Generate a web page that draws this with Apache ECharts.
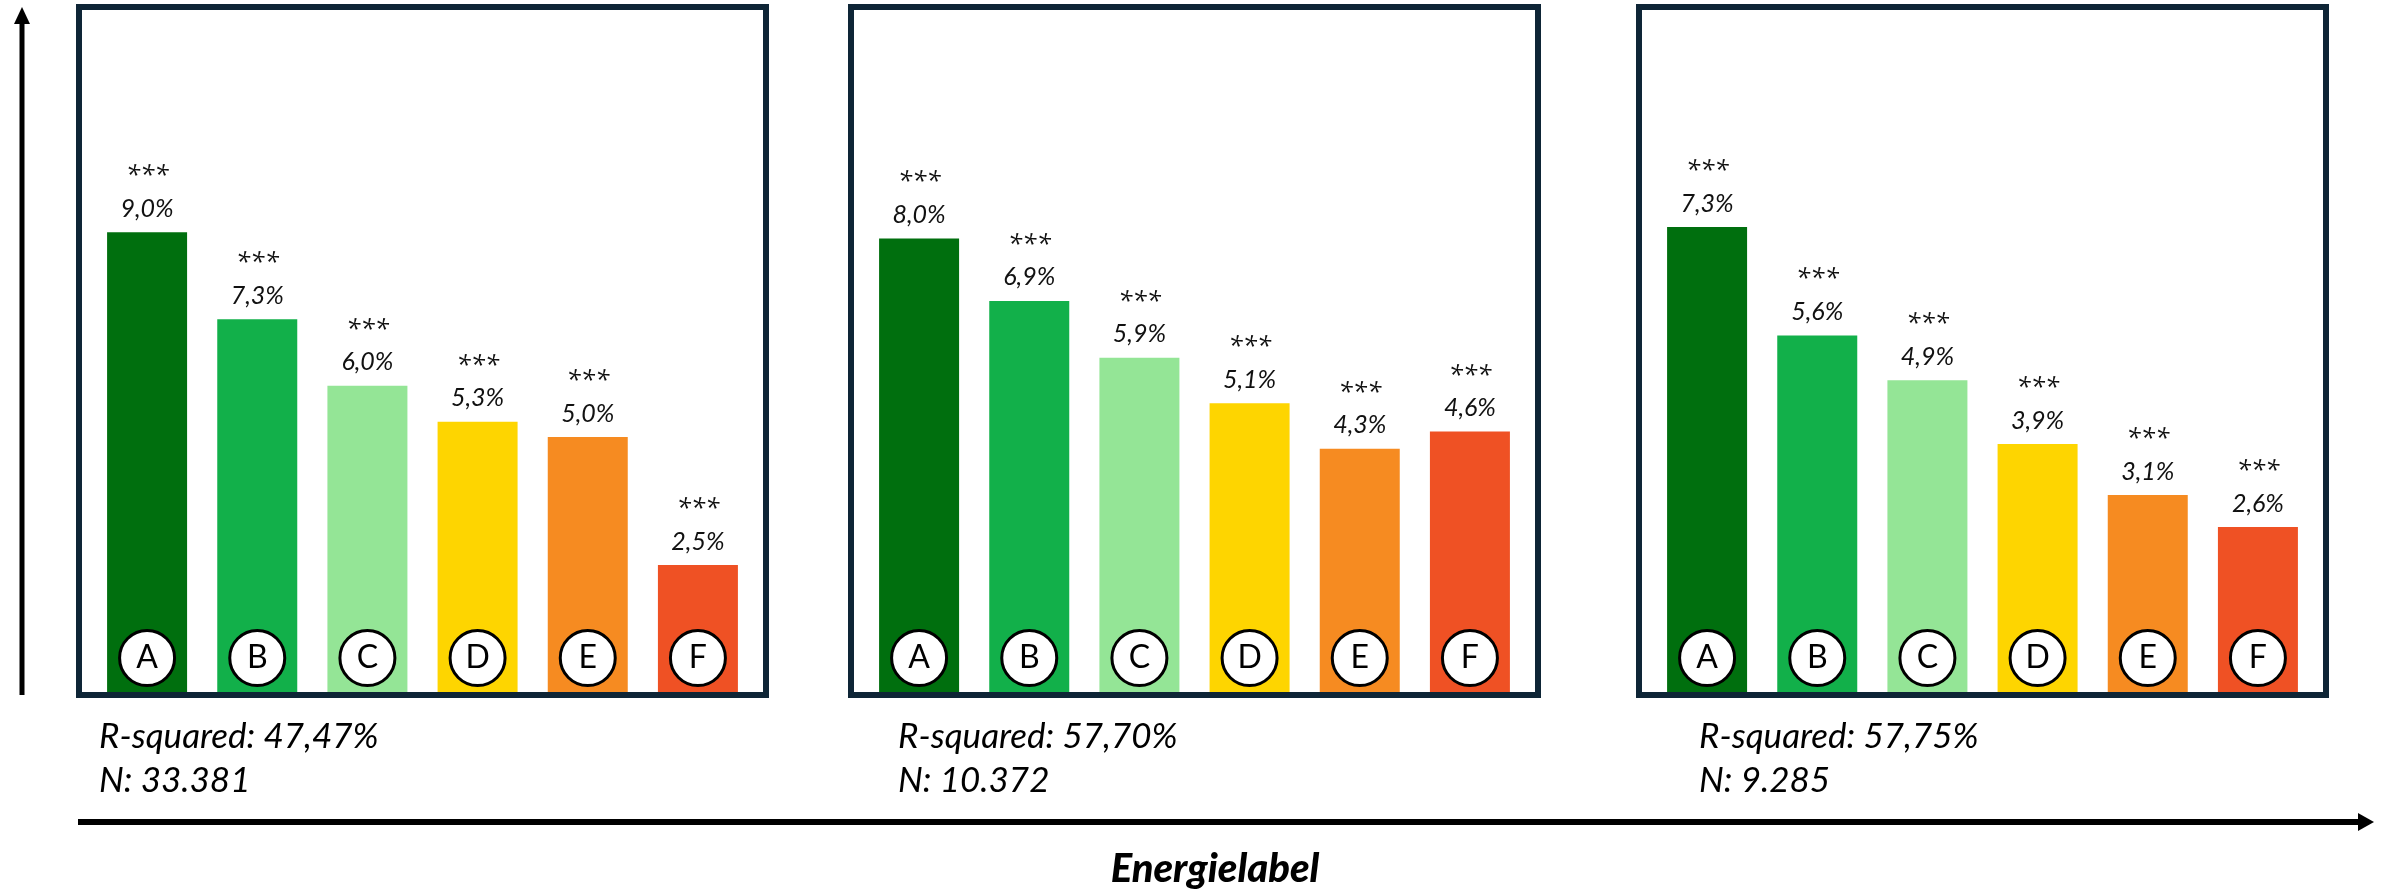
<!DOCTYPE html>
<html>
<head>
<meta charset="utf-8">
<title>Energielabel</title>
<script src="https://cdn.jsdelivr.net/npm/echarts@6/dist/echarts.min.js"></script>
<style>
  html, body { margin: 0; padding: 0; background: #ffffff; }
  #chart { width: 2387px; height: 889px; }
</style>
</head>
<body>
<div id="chart"></div>
<script>
// Energy label categories, shared by all three panels
const labels = ['A', 'B', 'C', 'D', 'E', 'F'];
const barColors = ['#006f0e', '#12b04a', '#94e596', '#fed500', '#f68b21', '#ef5124'];

// Estimated effect per label (percent), one array per model
const panel1Values = [9.0, 7.3, 6.0, 5.3, 5.0, 2.5];
const panel2Values = [8.0, 6.9, 5.9, 5.1, 4.3, 4.6];
const panel3Values = [7.3, 5.6, 4.9, 3.9, 3.1, 2.6];

// Significance markers shown above each bar
const panel1Stars = ['***', '***', '***', '***', '***', '***'];
const panel2Stars = ['***', '***', '***', '***', '***', '***'];
const panel3Stars = ['***', '***', '***', '***', '***', '***'];

// Model fit statistics printed under each panel
const rSquared = ['47,47%', '57,70%', '57,75%'];
const sampleSize = ['33.381', '10.372', '9.285'];

// Upper bound of each panel's (hidden) value axis
const yMax = [13.34, 12.02, 10.7];

const xTitle = 'Energielabel';

const panels = [
  { values: panel1Values, stars: panel1Stars },
  { values: panel2Values, stars: panel2Stars },
  { values: panel3Values, stars: panel3Stars }
];

// Layout (pixels)
const frameLeft = [76, 848, 1636];
const frameWidth = 693;
const frameTop = 4;
const frameBottom = 698;
const frameLine = 6;
const plotTop = 10;
const plotBottom = 693;
const statsLeft = [99, 898, 1699];

const FONT = 'Lato, "Open Sans", sans-serif';
const STAR_FONT = '"Open Sans", "DejaVu Sans", sans-serif';
const fmt = v => v.toFixed(1).replace('.', ',') + '%';

const grids = [], xAxes = [], yAxes = [], series = [], graphics = [];

panels.forEach((p, i) => {
  grids.push({
    left: frameLeft[i] + 16,
    width: frameWidth - 32,
    top: plotTop,
    height: plotBottom - plotTop
  });
  xAxes.push({
    type: 'category', gridIndex: i, data: labels,
    axisLine: { show: false }, axisTick: { show: false },
    axisLabel: { show: false }, splitLine: { show: false }
  });
  yAxes.push({
    type: 'value', gridIndex: i, min: 0, max: yMax[i],
    axisLine: { show: false }, axisTick: { show: false },
    axisLabel: { show: false }, splitLine: { show: false }
  });

  series.push({
    type: 'bar',
    xAxisIndex: i, yAxisIndex: i,
    barWidth: 80,
    z: 2,
    data: p.values.map((v, k) => ({
      value: v,
      itemStyle: { color: barColors[k] }
    })),
    label: {
      show: true,
      position: 'top',
      distance: 5,
      formatter: params => '{s|' + p.stars[params.dataIndex] + '}\n{v|' + fmt(params.value) + '}',
      rich: {
        s: { fontFamily: STAR_FONT, fontStyle: 'italic', fontSize: 26, lineHeight: 37, color: '#111', align: 'center', padding: [10, 0, 0, 0] },
        v: { fontFamily: FONT, fontStyle: 'italic', fontSize: 25, lineHeight: 37, color: '#111', align: 'center' }
      }
    },
    emphasis: { disabled: true }
  });

  // Round label badges at the foot of each bar
  series.push({
    type: 'scatter',
    xAxisIndex: i, yAxisIndex: i,
    z: 4,
    clip: false,
    symbol: 'circle',
    symbolSize: 55,
    symbolOffset: [0, -35],
    data: labels.map(l => [l, 0]),
    itemStyle: { color: '#ffffff', borderColor: '#000000', borderWidth: 3, opacity: 1 },
    label: {
      show: true,
      position: 'inside',
      formatter: params => labels[params.dataIndex],
      fontFamily: FONT,
      fontSize: 32,
      color: '#000'
    },
    emphasis: { disabled: true }
  });

  // Panel frame
  graphics.push({
    type: 'rect',
    z: 10,
    silent: true,
    shape: {
      x: frameLeft[i] + frameLine / 2,
      y: frameTop + frameLine / 2,
      width: frameWidth - frameLine,
      height: frameBottom - frameTop - frameLine
    },
    style: { fill: null, stroke: '#0e2536', lineWidth: frameLine }
  });

  // Model statistics
  graphics.push({
    type: 'text', z: 10, silent: true,
    x: statsLeft[i], y: 737,
    style: {
      text: 'R-squared: ' + rSquared[i],
      font: 'italic 35px ' + FONT,
      fill: '#000', textAlign: 'left', textVerticalAlign: 'middle'
    }
  });
  graphics.push({
    type: 'text', z: 10, silent: true,
    x: statsLeft[i], y: 781,
    style: {
      text: 'N: ' + sampleSize[i],
      font: 'italic 35px ' + FONT,
      fill: '#000', textAlign: 'left', textVerticalAlign: 'middle'
    }
  });
});

// Vertical axis arrow
graphics.push({
  type: 'line', silent: true, z: 10,
  shape: { x1: 22, y1: 695, x2: 22, y2: 20 },
  style: { stroke: '#000', lineWidth: 5 }
});
graphics.push({
  type: 'polygon', silent: true, z: 10,
  shape: { points: [[14, 24], [30, 24], [22, 7]] },
  style: { fill: '#000' }
});

// Horizontal axis arrow
graphics.push({
  type: 'line', silent: true, z: 10,
  shape: { x1: 78, y1: 822, x2: 2362, y2: 822 },
  style: { stroke: '#000', lineWidth: 6 }
});
graphics.push({
  type: 'polygon', silent: true, z: 10,
  shape: { points: [[2358, 813], [2358, 831], [2374, 822]] },
  style: { fill: '#000' }
});

// Horizontal axis title
graphics.push({
  type: 'text', silent: true, z: 10,
  x: 1215, y: 869,
  style: {
    text: xTitle,
    font: 'italic 900 40px ' + FONT,
    fill: '#000', textAlign: 'center', textVerticalAlign: 'middle'
  }
});

const chart = echarts.init(document.getElementById('chart'), null, { renderer: 'canvas' });
chart.setOption({
  animation: false,
  backgroundColor: '#ffffff',
  grid: grids,
  xAxis: xAxes,
  yAxis: yAxes,
  series: series,
  graphic: { elements: graphics }
});
</script>
</body>
</html>
